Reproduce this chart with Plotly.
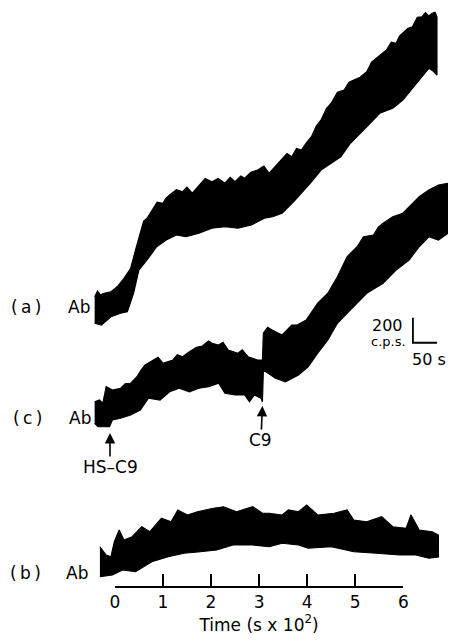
import plotly.graph_objects as go

# ---- data (time in s, signal in c.p.s.; traces share one vertical scale) ----
A_UP_T = [-42, -36, -30, -22, -8, 5, 19, 33, 43, 53, 60, 67, 80, 88, 100, 106, 114, 128, 141, 150, 161, 175, 188,
          202, 215, 229, 240, 250, 262, 270, 283, 297, 310, 321, 335, 348, 358, 368, 378, 388, 399, 409, 419, 429,
          440, 450, 463, 477, 487, 497, 510, 524, 534, 544, 555, 565, 575, 585, 592, 599, 609, 619, 629, 639, 646,
          653, 660, 666, 670]
A_UP_C = [2754, 2800, 2770, 2782, 2794, 2834, 2902, 2982, 3128, 3274, 3360, 3382, 3462, 3510, 3502, 3540, 3568,
          3610, 3594, 3630, 3582, 3648, 3700, 3674, 3700, 3662, 3710, 3674, 3720, 3702, 3750, 3768, 3800, 3742,
          3800, 3862, 3900, 3874, 3940, 3928, 3990, 4034, 4120, 4168, 4260, 4302, 4390, 4408, 4470, 4488, 4510,
          4554, 4630, 4662, 4700, 4728, 4790, 4782, 4840, 4862, 4900, 4914, 4990, 4994, 5026, 5000, 5022, 5030,
          4994]
A_LO_T = [-42, -28, -8, 12, 26, 39, 50, 67, 87, 107, 128, 148, 175, 202, 229, 256, 284, 311, 328, 348, 375, 388,
          409, 429, 450, 470, 490, 511, 531, 551, 578, 599, 619, 639, 653, 662, 670]
A_LO_C = [2542, 2528, 2594, 2622, 2634, 2782, 2968, 3048, 3154, 3208, 3248, 3234, 3262, 3302, 3314, 3302, 3328,
          3382, 3394, 3422, 3528, 3582, 3674, 3768, 3822, 3874, 3982, 4062, 4142, 4222, 4262, 4328, 4422, 4514,
          4582, 4560, 4528]

C_UP_T = [-42, -32, -25, -18, -5, 12, 22, 33, 46, 55, 63, 80, 90, 100, 121, 130, 141, 155, 170, 182, 195, 202,
          216, 225, 236, 256, 265, 277, 297, 307, 309, 318, 327, 348, 368, 380, 398, 422, 443, 463, 483, 504, 517,
          538, 548, 558, 578, 599, 612, 633, 653, 673, 693]
C_UP_C = [1914, 1928, 1902, 2034, 2008, 2022, 2060, 2062, 2114, 2170, 2208, 2248, 2270, 2222, 2248, 2290, 2274,
          2314, 2350, 2360, 2400, 2382, 2368, 2390, 2328, 2302, 2330, 2274, 2248, 2248, 2464, 2510, 2488, 2448,
          2528, 2530, 2568, 2702, 2782, 2914, 3074, 3154, 3234, 3248, 3310, 3342, 3394, 3422, 3474, 3554, 3608,
          3648, 3662]
C_LO_T = [-42, -35, -11, -5, 12, 33, 53, 70, 94, 114, 134, 155, 175, 195, 216, 229, 250, 270, 280, 290, 304, 307,
          309, 334, 355, 382, 402, 422, 443, 463, 483, 504, 524, 558, 585, 612, 633, 653, 673, 693]
C_LO_C = [1742, 1714, 1714, 1768, 1782, 1808, 1848, 1942, 1928, 1994, 2022, 1994, 2022, 2034, 2062, 1982, 1968,
          1968, 1914, 1968, 1942, 1914, 2168, 2102, 2074, 2128, 2194, 2302, 2408, 2542, 2622, 2708, 2782, 2862,
          2968, 3048, 3154, 3234, 3208, 3262]

B_UP_T = [-31, -18, -8, -1, 9, 19, 36, 56, 73, 97, 117, 131, 151, 172, 205, 226, 253, 287, 307, 321, 348, 361,
          382, 399, 422, 456, 483, 497, 524, 555, 578, 606, 616, 633, 660, 673]
B_UP_C = [754, 688, 674, 794, 888, 808, 834, 914, 874, 982, 954, 1048, 1008, 1034, 1062, 1074, 1034, 1074, 1022,
          1022, 1008, 1048, 1034, 1088, 1008, 1022, 1048, 968, 954, 994, 914, 902, 1008, 888, 874, 848]
B_LO_T = [-31, -5, 16, 43, 77, 111, 144, 178, 212, 246, 287, 321, 348, 382, 402, 450, 497, 544, 592, 626, 653, 673]
B_LO_C = [514, 528, 568, 554, 634, 674, 702, 714, 728, 768, 768, 754, 782, 768, 742, 754, 714, 702, 688, 688, 662,
          672]

TICK_VALS = [0, 100, 200, 300, 400, 500, 600]
TICK_TEXT = ["0", "1", "2", "3", "4", "5", "6"]

SCALE_T = [620, 620, 670]          # 50 s horizontal bar
SCALE_C = [2586, 2386, 2386]       # 200 c.p.s. vertical bar

# additions: (label, time s, signal at arrow tip)
ADD_LABELS = ["HS\u2013C9", "C9"]
ADD_T = [-10, 307]
ADD_C = [1664, 1880]

FONT = "DejaVu Sans"

fig = go.Figure()

for ut, uc, lt, lc in [(A_UP_T, A_UP_C, A_LO_T, A_LO_C),
                       (C_UP_T, C_UP_C, C_LO_T, C_LO_C),
                       (B_UP_T, B_UP_C, B_LO_T, B_LO_C)]:
    fig.add_trace(go.Scatter(
        x=ut + lt[::-1], y=uc + lc[::-1], mode="lines", fill="toself",
        fillcolor="black", line=dict(color="black", width=1.2),
        showlegend=False, hoverinfo="skip"))

# scale bar
fig.add_trace(go.Scatter(x=SCALE_T, y=SCALE_C, mode="lines",
                         line=dict(color="black", width=1.8),
                         showlegend=False, hoverinfo="skip"))

# dummy trace to carry the visible time axis
fig.add_trace(go.Scatter(x=[0, 600], y=[None, None], xaxis="x2", yaxis="y",
                         mode="lines", showlegend=False, hoverinfo="skip"))

W, H = 453, 641
x0_px, x6_px = 112.3, 407.3
s_per_px = 600 / (x6_px - x0_px)

fig.update_layout(
    width=W, height=H, margin=dict(l=0, r=0, t=0, b=0),
    paper_bgcolor="white", plot_bgcolor="rgba(0,0,0,0)",
    font=dict(family=FONT, color="black", size=17),
    xaxis=dict(visible=False, range=[-x0_px * s_per_px, (W - x0_px) * s_per_px],
               domain=[0, 1], fixedrange=True),
    yaxis=dict(visible=False, range=[0, H * 8], domain=[0, 1], fixedrange=True),
    xaxis2=dict(domain=[x0_px / W, x6_px / W], range=[0, 600], anchor="free",
                position=(H - 587) / H, showline=True, linecolor="black", linewidth=2,
                ticks="inside", ticklen=12, tickwidth=1.5, tickcolor="black",
                tickvals=TICK_VALS, ticktext=TICK_TEXT, showgrid=False, zeroline=False,
                tickfont=dict(size=17, family=FONT),
                title=dict(text="Time (s x 10<sup>2</sup>)", font=dict(size=17, family=FONT),
                           standoff=5)),
)

ann = []
def lab(text, xp, yp, size=17):
    ann.append(dict(text=text, x=xp / W, y=1 - yp / H, xref="paper", yref="paper",
                    showarrow=False, font=dict(size=size, family=FONT), xanchor="center",
                    yanchor="middle"))

lab("(\u2009a\u2009)", 21.5, 307)
lab("Ab", 75.5, 307)
lab("(\u2009c\u2009)", 22.5, 418)
lab("Ab", 77, 418)
lab("(\u2009b\u2009)", 21, 573)
lab("Ab", 74, 573)

# arrows with their labels (data coordinates)
for text, t, c, axo in zip(ADD_LABELS, ADD_T, ADD_C, [0, -1.5]):
    ann.append(dict(x=t, y=c, xref="x", yref="y", text=text, showarrow=True, ax=axo, ay=34,
                    arrowhead=2, arrowsize=1.3, arrowwidth=1.6, arrowcolor="black",
                    font=dict(size=17, family=FONT), borderpad=0))

for text, t, c, size in [("200", 567, 2528, 16), ("c.p.s.", 569, 2396, 13), ("50 s", 653, 2256, 16)]:
    ann.append(dict(x=t, y=c, xref="x", yref="y", text=text, showarrow=False,
                    font=dict(size=size, family=FONT), xanchor="center", yanchor="middle"))

fig.update_layout(annotations=ann)
fig.write_html("out.html")
